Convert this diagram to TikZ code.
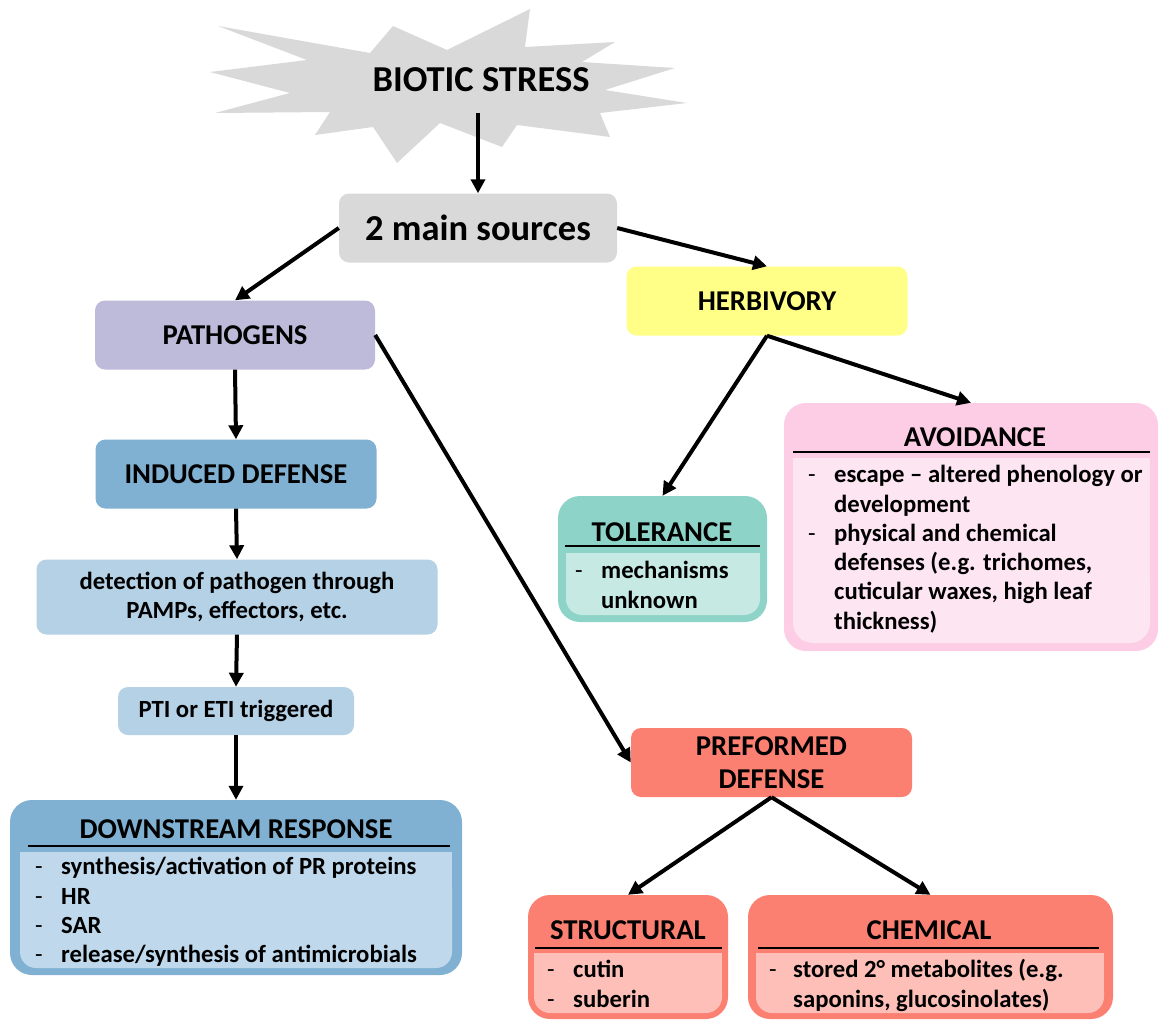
\documentclass[tikz,border=0pt]{standalone}
\usepackage{fontspec}
\setmainfont{Carlito}
\usetikzlibrary{arrows.meta}
\definecolor{cgray}{HTML}{D9D9D9}
\definecolor{clav}{HTML}{BEBADA}
\definecolor{cyel}{HTML}{FFFF88}
\definecolor{cblue}{HTML}{80B1D3}
\definecolor{cblueL}{HTML}{B4D1E6}
\definecolor{cblueP}{HTML}{BFD8EC}
\definecolor{cteal}{HTML}{8DD3C7}
\definecolor{ctealL}{HTML}{C6E9E3}
\definecolor{cpink}{HTML}{FCCDE5}
\definecolor{cpinkL}{HTML}{FDE5F1}
\definecolor{csalm}{HTML}{FB8072}
\definecolor{csalmL}{HTML}{FDBFB8}
\newcommand\mytitle{\fontsize{36.5}{41}\selectfont\bfseries}
\newcommand\myhead{\fontsize{28.7}{33}\selectfont\bfseries}
\newcommand\mybody{\fontsize{24.7}{29.3}\selectfont\bfseries}
\newcommand\mydash{{\mdseries -}}
\begin{document}
\begin{tikzpicture}[x=1pt,y=-1pt,
  arr/.style={line width=4pt,-{Triangle[length=14pt,width=14pt]}},
  sbox/.style={rounded corners=10pt,inner sep=0pt,align=center},
  cbox/.style={rounded corners=22pt,inner sep=0pt},
  uline/.style={line width=2.5pt,black},
  lst/.style={anchor=north west,inner sep=0pt,font=\mybody}]
\useasboundingbox (0,0) rectangle (1160,1021);
% star
\fill[cgray] (210,72) -- (307,60) -- (218,26) -- (370,53) -- (393,26) -- (447,50)
  -- (530,9) -- (525,47) -- (615,42) -- (582,62) -- (675,68) -- (605,90)
  -- (687,103) -- (600,113) -- (610,137) -- (517,125) -- (502,147) -- (440,123)
  -- (397,163) -- (373,127) -- (315,135) -- (330,112) -- (215,113) -- (290,93) -- cycle;
\node[font=\mytitle] (stress) at (481,80) {BIOTIC STRESS};
\coordinate (starbot) at (478,113);
% simple boxes
\node[sbox,fill=cgray,minimum width=278pt,minimum height=69pt,font=\mytitle] (src) at (478,228) {2 main sources};
\node[sbox,fill=clav,minimum width=280pt,minimum height=69pt,font=\myhead] (path) at (235,335) {PATHOGENS};
\node[sbox,fill=cyel,minimum width=281pt,minimum height=69pt,font=\myhead] (herb) at (767,301) {HERBIVORY};
\node[sbox,fill=cblue,minimum width=281pt,minimum height=69pt,font=\myhead] (ind) at (236,474) {INDUCED DEFENSE};
\node[sbox,fill=cblueL,minimum width=401pt,minimum height=75pt,font=\mybody] (det) at (237,597) {detection of pathogen through\\PAMPs, effectors, etc.};
\node[sbox,fill=cblueL,minimum width=236pt,minimum height=48pt,font=\mybody] (pti) at (236,711) {PTI or ETI triggered};
\node[sbox,fill=csalm,minimum width=281pt,minimum height=69pt,font=\myhead] (pre) at (771.5,762.5) {PREFORMED\\DEFENSE};
% downstream response
\node[cbox,fill=cblue,minimum width=452pt,minimum height=175pt] (down) at (236,887.5) {};
\fill[cblueP,rounded corners=16pt] (20,872) rectangle (452,968);
\fill[cblueP] (20,852) rectangle (452,890);
\node[font=\myhead] (downh) at (236,829) {DOWNSTREAM RESPONSE};
\draw[uline] (28,846) -- (450,846);
\node[lst] (downl) at (35,854) {\begin{tabular}{@{}p{26pt}@{}l@{}}
\mydash&synthesis/activation of PR proteins\\
\mydash&HR\\
\mydash&SAR\\
\mydash&release/synthesis of antimicrobials\end{tabular}};
% tolerance
\node[cbox,fill=cteal,minimum width=209pt,minimum height=126pt] (tol) at (662.5,559) {};
\fill[ctealL,rounded corners=16pt] (566,575) rectangle (760,615);
\fill[ctealL] (566,553) rectangle (760,590);
\node[font=\myhead] (tolh) at (662,532) {TOLERANCE};
\draw[uline] (565,546) -- (760,546);
\node[lst] (toll) at (575,558) {\begin{tabular}{@{}p{26pt}@{}l@{}}
\mydash&mechanisms\\
&unknown\end{tabular}};
% avoidance
\node[cbox,fill=cpink,minimum width=374pt,minimum height=248pt] (avoid) at (971,527) {};
\fill[cpinkL,rounded corners=20pt] (793,560) rectangle (1150,643);
\fill[cpinkL] (793,458) rectangle (1150,600);
\node[font=\myhead] (avoidh) at (975,437) {AVOIDANCE};
\draw[uline] (793,452) -- (1150,452);
\node[lst] (avoidl) at (808,462) {\begin{tabular}{@{}p{26pt}@{}l@{}}
\mydash&escape -- altered phenology or\\
&development\\
\mydash&physical and chemical\\
&defenses (e.g. trichomes,\\
&cuticular waxes, high leaf\\
&thickness)\end{tabular}};
% structural
\node[cbox,fill=csalm,minimum width=200pt,minimum height=124pt] (struc) at (628,957) {};
\fill[csalmL,rounded corners=16pt] (534,975) rectangle (722,1013);
\fill[csalmL] (534,953) rectangle (722,990);
\node[font=\myhead] (struch) at (628,930) {STRUCTURAL};
\draw[uline] (535,948) -- (722,948);
\node[lst] (strucl) at (547,957) {\begin{tabular}{@{}p{26pt}@{}l@{}}
\mydash&cutin\\
\mydash&suberin\end{tabular}};
% chemical
\node[cbox,fill=csalm,minimum width=365pt,minimum height=124pt] (chem) at (930.5,957) {};
\fill[csalmL,rounded corners=16pt] (756,975) rectangle (1104,1013);
\fill[csalmL] (756,953) rectangle (1104,990);
\node[font=\myhead] (chemh) at (929,930) {CHEMICAL};
\draw[uline] (758,948) -- (1099,948);
\node[lst] (cheml) at (769,957) {\begin{tabular}{@{}p{24pt}@{}l@{}}
\mydash&stored 2° metabolites (e.g.\\
&saponins, glucosinolates)\end{tabular}};
% arrows
\draw[arr] (starbot) -- (src.north);
\draw[arr] (src.west) -- (path.north);
\draw[arr] (src.east) -- (herb.north);
\draw[arr] (path.south) -- (ind.north);
\draw[arr] (ind.south) -- (det.north);
\draw[arr] (det.south) -- (pti.north);
\draw[arr] (pti.south) -- (down.north);
\draw[arr] (path.east) -- (pre.west);
\draw[arr] (herb.south) -- (tol.north);
\draw[arr] (herb.south) -- (avoid.north);
\draw[arr] (pre.south) -- (struc.north);
\draw[arr] (pre.south) -- (chem.north);
\end{tikzpicture}
\end{document}
